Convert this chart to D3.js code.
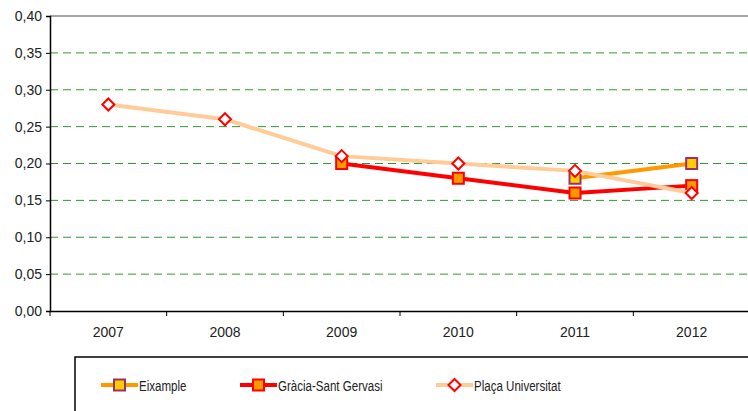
<!DOCTYPE html>
<html><head><meta charset="utf-8">
<script src="https://cdn.jsdelivr.net/npm/d3@7"></script>
<style>body{margin:0;background:#fff;}svg{display:block;font-family:"Liberation Sans",Arial,sans-serif;}</style>
</head><body>
<svg id="c" width="748" height="411"></svg>
<script>
const years = ["2007","2008","2009","2010","2011","2012"];
const eixample = [null, null, null, null, 0.18, 0.20];
const gracia = [null, null, 0.20, 0.18, 0.16, 0.17];
const placa = [0.28, 0.26, 0.21, 0.20, 0.19, 0.16];
const yTicks = [0,0.05,0.10,0.15,0.20,0.25,0.30,0.35,0.40];
const seriesNames = ["Eixample","Gràcia-Sant Gervasi","Plaça Universitat"];

const series = [
  {name: seriesNames[0], values: eixample, line:"#FF9900", fill:"#FFCC00", stroke:"#993366", shape:"square"},
  {name: seriesNames[1], values: gracia, line:"#FF0000", fill:"#FF9900", stroke:"#FF0000", shape:"square"},
  {name: seriesNames[2], values: placa, line:"#FFCC99", fill:"#FFFFFF", stroke:"#FF0000", shape:"diamond"}
];

const svg = d3.select("#c");
const L = 50, R = 750, T = 16, B = 311;
const x = d3.scaleBand().domain(years).range([L, R]);
const y = d3.scaleLinear().domain([0, 0.40]).range([B, T]);
const fmt = v => d3.format(".2f")(v).replace(".", ",");

// grid
svg.append("g").selectAll("line").data(yTicks.filter(v => v > 0 && v < 0.40)).join("line")
  .attr("x1", L).attr("x2", R).attr("y1", d => y(d)).attr("y2", d => y(d))
  .attr("stroke", "#2E9B2E").attr("stroke-width", 1).attr("stroke-dasharray", "8,5");
// top border
svg.append("line").attr("x1", L).attr("x2", R).attr("y1", y(0.40)).attr("y2", y(0.40))
  .attr("stroke", "#888").attr("stroke-width", 1.5);

// y axis
const ya = svg.append("g").attr("transform", `translate(${L},0)`)
  .call(d3.axisLeft(y).tickValues(yTicks).tickFormat(fmt).tickSize(4).tickPadding(4));
ya.select(".domain").attr("stroke", "#000").attr("stroke-width", 1.5);
ya.selectAll(".tick line").attr("stroke", "#000");
ya.selectAll("text").attr("font-size", 14).attr("fill", "#222").attr("font-family", '"Liberation Sans",Arial,sans-serif');

// x axis
const xa = svg.append("g").attr("transform", `translate(0,${B})`)
  .call(d3.axisBottom(x).tickSize(0).tickPadding(16));
xa.select(".domain").attr("stroke", "#000").attr("stroke-width", 1.5);
xa.selectAll("text").attr("font-size", 14).attr("fill", "#222").attr("font-family", '"Liberation Sans",Arial,sans-serif');
// boundary ticks
const bounds = years.map(d => x(d)).concat([R]);
svg.append("g").selectAll("line").data(bounds).join("line")
  .attr("x1", d => d).attr("x2", d => d).attr("y1", B).attr("y2", B + 5)
  .attr("stroke", "#000").attr("stroke-width", 1);

const cx = d => x(d) + x.bandwidth() / 2;

function marker(g, shape, px, py, fill, stroke) {
  if (shape === "square") {
    g.append("rect").attr("x", px - 5.5).attr("y", py - 5.5).attr("width", 11).attr("height", 11)
      .attr("fill", fill).attr("stroke", stroke).attr("stroke-width", 2);
  } else {
    const s = 6;
    g.append("path").attr("d", `M${px},${py - s}L${px + s},${py}L${px},${py + s}L${px - s},${py}Z`)
      .attr("fill", fill).attr("stroke", stroke).attr("stroke-width", 2);
  }
}

const line = d3.line().defined(d => d.v != null).x(d => cx(d.k)).y(d => y(d.v));
series.forEach(s => {
  const pts = years.map((k, i) => ({k, v: s.values[i]}));
  const g = svg.append("g");
  g.append("path").datum(pts).attr("d", line).attr("fill", "none")
    .attr("stroke", s.line).attr("stroke-width", 4).attr("stroke-linejoin", "round");
  pts.filter(p => p.v != null).forEach(p => marker(g, s.shape, cx(p.k), y(p.v), s.fill, s.stroke));
});

// legend
svg.append("rect").attr("x", 75).attr("y", 357).attr("width", 700).attr("height", 80)
  .attr("fill", "#fff").attr("stroke", "#000").attr("stroke-width", 1.5);
const legX = [101, 240, 436];
series.forEach((s, i) => {
  const g = svg.append("g");
  const ly = 385;
  g.append("line").attr("x1", legX[i]).attr("x2", legX[i] + 37).attr("y1", ly).attr("y2", ly)
    .attr("stroke", s.line).attr("stroke-width", 4);
  marker(g, s.shape, legX[i] + 18.5, ly, s.fill, s.stroke);
  g.append("text").attr("transform", `translate(${legX[i] + 38},${ly + 5.5}) scale(0.77,1)`).text(s.name)
    .attr("font-size", 15).attr("fill", "#222");
});
</script>
</body></html>
